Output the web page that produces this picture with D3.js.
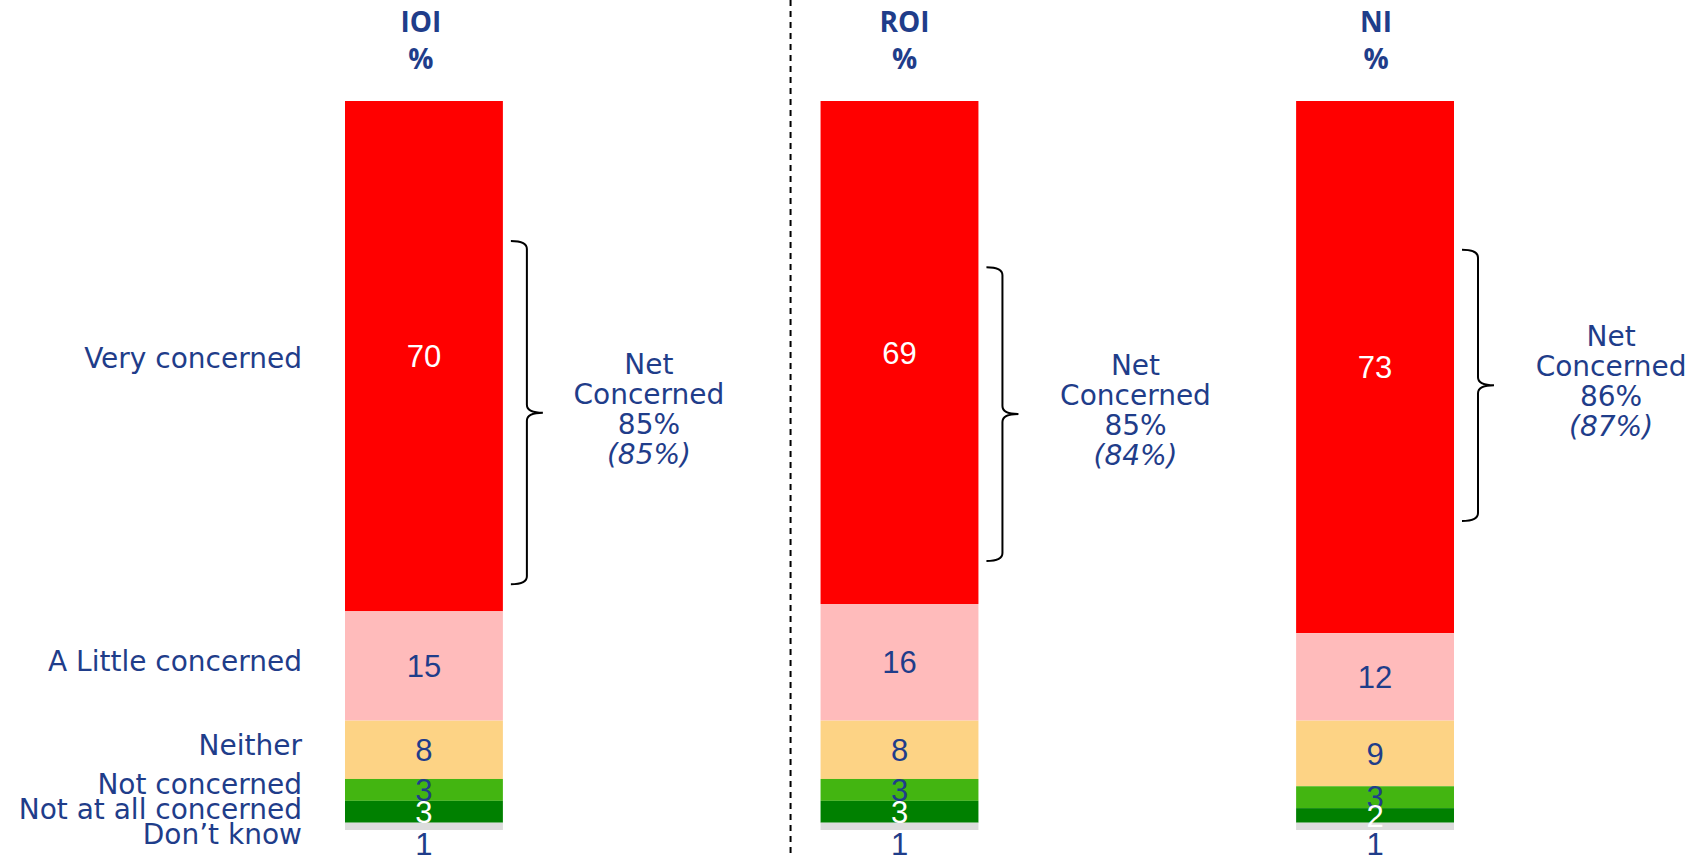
<html>

<head>
    <meta charset="UTF-8">
    <title>Concern levels</title>
    <style>
        body {
            margin: 0;
            background: #fff;
        }

        .title text {
            font: bold 28px "Open Sans", sans-serif;
            fill: #1f3d8a;
        }

        .cat text {
            font: 28px "DejaVu Sans", sans-serif;
            fill: #1f3d8a;
        }

        .val text {
            font: 31px "Liberation Sans", Arial, sans-serif;
        }

        .net text {
            font: 28px "DejaVu Sans", sans-serif;
            fill: #1f3d8a;
        }

        .brace {
            fill: none;
            stroke: #000;
            stroke-width: 2;
        }
    </style>

    <script src="https://d3js.org/d3.v7.min.js"></script>
</head>

<body>
    <script type="text/javascript">
        // data
        var groups = ["IOI", "ROI", "NI"]
        var categories = ["Very concerned", "A Little concerned", "Neither", "Not concerned", "Not at all concerned", "Don\u2019t know"]
        var colors = ["#ff0000", "#ffbbbb", "#fdd385", "#43b511", "#008000", "#dcdcdc"]
        var values = {
            IOI: [70, 15, 8, 3, 3, 1],
            ROI: [69, 16, 8, 3, 3, 1],
            NI: [73, 12, 9, 3, 2, 1]
        }
        var netConcerned = [85, 85, 86]
        var netPrevious = [85, 84, 87]
        // brace span, in % along the stack
        var braceFrom = [19.2, 22.8, 20.4]
        var braceTo = [66.3, 63.1, 57.6]

        var width = 1704, height = 857
        var blue = "#1f3d8a"
        var netShift = [225, 236, 236]   // text offset from bar centre
        var titleShift = [-3, 5, 1]
        var catShift = [2, -5, -5, 0, 0, 0]

        var x = d3.scaleBand()
            .domain(groups)
            .range([345, 1454])
            .paddingInner(0.668)
            .paddingOuter(0)

        var y = d3.scaleLinear()
            .domain([0, 100])
            .range([101, 830])

        var svg = d3.select("body").append("svg")
            .attr("width", width)
            .attr("height", height)

        // dashed separator
        var sepX = x("ROI") - 30
        svg.append("line")
            .attr("x1", sepX).attr("x2", sepX)
            .attr("y1", 0).attr("y2", height)
            .attr("stroke", "#000")
            .attr("stroke-width", 2)
            .attr("stroke-dasharray", "6,5")

        // stacked data
        var stacks = groups.map(function (g, gi) {
            var acc = 0
            return values[g].map(function (v, i) {
                var d = { group: g, gi: gi, i: i, value: v, y0: acc, y1: acc + v }
                acc += v
                return d
            })
        })

        var bars = svg.append("g").selectAll("g")
            .data(stacks)
            .enter().append("g")

        bars.selectAll("rect")
            .data(function (d) { return d })
            .enter().append("rect")
            .attr("x", function (d) { return x(d.group) })
            .attr("width", x.bandwidth())
            .attr("y", function (d) { return y(d.y0) })
            .attr("height", function (d) { return y(d.y1) - y(d.y0) })
            .attr("fill", function (d) { return colors[d.i] })

        // value labels
        var last = categories.length - 1
        bars.append("g").attr("class", "val")
            .selectAll("text")
            .data(function (d) { return d })
            .enter().append("text")
            .attr("x", function (d) { return x(d.group) + x.bandwidth() / 2 })
            .attr("y", function (d) {
                if (d.i == last) return y(d.y1) + 14
                return (y(d.y0) + y(d.y1)) / 2
            })
            .attr("dy", "0.36em")
            .attr("text-anchor", "middle")
            .attr("fill", function (d) { return (d.i == 0 || d.i == 4) ? "#fff" : blue })
            .text(function (d) { return d.value })

        // titles
        var titles = svg.append("g").attr("class", "title")
        titles.selectAll(".t1")
            .data(groups)
            .enter().append("text")
            .attr("x", function (d, i) { return x(d) + x.bandwidth() / 2 + titleShift[i] })
            .attr("y", 32)
            .attr("text-anchor", "middle")
            .text(function (d) { return d })
        titles.selectAll(".t2")
            .data(groups)
            .enter().append("text")
            .attr("x", function (d, i) { return x(d) + x.bandwidth() / 2 + titleShift[i] })
            .attr("y", 69)
            .attr("text-anchor", "middle")
            .text("%")

        // category labels next to first bar, pushed apart where they crowd
        var first = stacks[0]
        var ly = first.map(function (d) { return (y(d.y0) + y(d.y1)) / 2 })
        var gap = 25
        for (var k = 0; k < 100; k++) {
            for (var i = 1; i < ly.length; i++) {
                var diff = ly[i] - ly[i - 1]
                if (diff < gap) {
                    ly[i - 1] -= (gap - diff) / 2
                    ly[i] += (gap - diff) / 2
                }
            }
        }
        svg.append("g").attr("class", "cat")
            .selectAll("text")
            .data(categories)
            .enter().append("text")
            .attr("x", x("IOI") - 43)
            .attr("y", function (d, i) { return ly[i] + catShift[i] })
            .attr("dy", "0.36em")
            .attr("text-anchor", "end")
            .text(function (d) { return d })

        // braces
        function bracePath(x0, top, bot) {
            var v = x0 + 16, tip = x0 + 32, mid = (top + bot) / 2, r = 8
            return "M" + x0 + "," + top +
                " Q" + v + "," + top + " " + v + "," + (top + r) +
                " L" + v + "," + (mid - r) +
                " Q" + v + "," + mid + " " + tip + "," + mid +
                " Q" + v + "," + mid + " " + v + "," + (mid + r) +
                " L" + v + "," + (bot - r) +
                " Q" + v + "," + bot + " " + x0 + "," + bot
        }

        groups.forEach(function (g, gi) {
            var bx = x(g) + x.bandwidth() + 8
            var top = y(braceFrom[gi]), bot = y(braceTo[gi])
            svg.append("path")
                .attr("class", "brace")
                .attr("d", bracePath(bx, top, bot))

            var cx = x(g) + x.bandwidth() / 2 + netShift[gi]
            var cy = (top + bot) / 2 - 4
            var lines = ["Net", "Concerned", netConcerned[gi] + "%", "(" + netPrevious[gi] + "%)"]
            var t = svg.append("g").attr("class", "net")
            t.selectAll("text")
                .data(lines)
                .enter().append("text")
                .attr("x", cx)
                .attr("y", function (d, i) { return cy + (i - 1.5) * 30 })
                .attr("dy", "0.36em")
                .attr("text-anchor", "middle")
                .style("font-style", function (d, i) { return i == 3 ? "italic" : null })
                .text(function (d) { return d })
        })
    </script>
</body>

</html>
